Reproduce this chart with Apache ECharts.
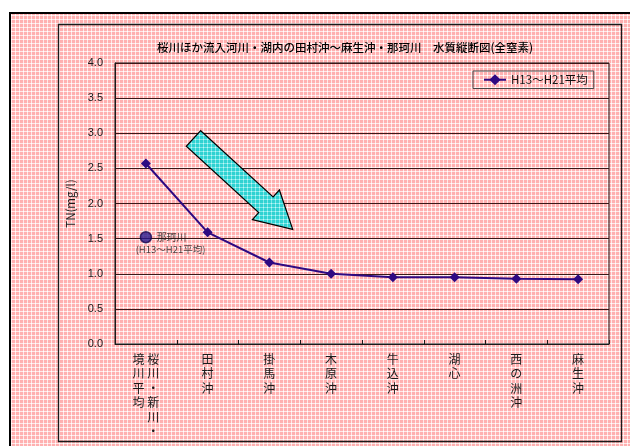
<!DOCTYPE html>
<html>
<head>
<meta charset="utf-8">
<script src="https://cdn.jsdelivr.net/npm/echarts@6/dist/echarts.min.js"></script>
<style>
  html, body { margin: 0; padding: 0; background: #ffffff; }
  #chart { width: 630px; height: 446px; }
</style>
</head>
<body>
<div id="chart"></div>
<script>
// Sampling stations along the flow, upstream to downstream
const categories = ['桜川・新川・境川平均', '田村沖', '掛馬沖', '木原沖', '牛込沖', '湖心', '西の洲沖', '麻生沖'];
// Total nitrogen, average of fiscal years H13–H21 (mg/l)
const tnAverage = [2.57, 1.59, 1.16, 1.00, 0.95, 0.95, 0.93, 0.92];
// Naka River reference point, plotted at the first station column
const nakaName = '那珂川';
const nakaCategory = categories[0];
const nakaValue = [1.52];
const seriesName = 'H13～H21平均';
const titleText = '桜川ほか流入河川・湖内の田村沖～麻生沖・那珂川　水質縦断図(全窒素)';
const yAxisName = 'TN(mg/l)';

const FONT = '"Noto Sans CJK JP", "Noto Sans", sans-serif';

// Small repeating tiles for the dotted fills
function makeTile(base, line, dot) {
  const c = document.createElement('canvas');
  c.width = 4; c.height = 4;
  const g = c.getContext('2d');
  g.fillStyle = base; g.fillRect(0, 0, 4, 4);
  g.fillStyle = line; g.fillRect(3, 0, 1, 4); g.fillRect(0, 3, 4, 1);
  g.fillStyle = dot; g.fillRect(3, 3, 1, 1);
  return c;
}
const pinkFill = { image: makeTile('#ffb0b0', '#ffe8e8', '#ffffff'), repeat: 'repeat' };
const cyanFill = { image: makeTile('#2fd2d2', '#7fe8e8', '#c8f6f6'), repeat: 'repeat' };

// Category names written top-to-bottom, wrapping into columns of 6 that run right-to-left
function verticalLabel(name) {
  const chars = Array.from(name);
  const rows = 6;
  const cols = [];
  for (let i = 0; i < chars.length; i += rows) cols.push(chars.slice(i, i + rows));
  if (cols.length === 1) return cols[0].join('\n');
  const lines = [];
  for (let r = 0; r < rows; r++) {
    const parts = [];
    for (let c = cols.length - 1; c >= 0; c--) parts.push(cols[c][r] || '\u3000');
    lines.push(parts.join(' '));
  }
  return lines.join('\n');
}

// Decorative block arrow pointing down the gradient
const arrowPoints = [
  [200.7, 130.7], [273.1, 197.0], [279.4, 190.0], [292.7, 229.3],
  [252.4, 219.6], [258.7, 212.6], [186.3, 146.3]
];

const chart = echarts.init(document.getElementById('chart'), null, { renderer: 'canvas' });
chart.setOption({
  animation: false,
  backgroundColor: '#ffffff',
  textStyle: { fontFamily: FONT },
  title: {
    text: titleText,
    left: 340,
    top: 37,
    textAlign: 'center',
    textStyle: { fontFamily: FONT, fontSize: 11.5, fontWeight: 500, color: '#000000' }
  },
  legend: {
    data: [seriesName],
    left: 473,
    top: 71,
    itemWidth: 22,
    itemHeight: 14,
    padding: [3, 6, 3, 10],
    borderColor: '#444444',
    borderWidth: 1,
    textStyle: { fontFamily: FONT, fontSize: 11.5, color: '#111111' }
  },
  graphic: [
    {
      type: 'rect', z: -10, silent: true,
      shape: { x: 10, y: 13, width: 700, height: 500 },
      style: { fill: pinkFill, stroke: '#000000', lineWidth: 2 }
    },
    {
      type: 'rect', z: -9, silent: true,
      shape: { x: 58.5, y: 24.5, width: 563, height: 417 },
      style: { fill: 'none', stroke: '#1a1a1a', lineWidth: 1.3 }
    },
    {
      type: 'polygon', z: 3, silent: true,
      shape: { points: arrowPoints },
      style: { fill: cyanFill, stroke: '#000000', lineWidth: 1.2 }
    }
  ],
  grid: {
    left: 115, top: 63, width: 494, height: 281,
    show: true, borderColor: '#1a1a1a', borderWidth: 1, backgroundColor: 'transparent'
  },
  xAxis: {
    type: 'category',
    data: categories,
    axisLine: { lineStyle: { color: '#1a1a1a', width: 1 } },
    axisTick: { show: true, inside: true, length: 4, lineStyle: { color: '#1a1a1a' } },
    axisLabel: {
      interval: 0,
      margin: 8,
      fontFamily: FONT,
      fontSize: 12,
      lineHeight: 14.5,
      color: '#1a1a1a',
      formatter: verticalLabel
    },
    splitLine: { show: false }
  },
  yAxis: {
    type: 'value',
    min: 0, max: 4, interval: 0.5,
    name: yAxisName,
    nameLocation: 'middle',
    nameGap: 33,
    nameRotate: 90,
    nameTextStyle: { fontFamily: FONT, fontSize: 11.5, color: '#1a1a1a' },
    axisLine: { show: true, lineStyle: { color: '#1a1a1a', width: 1 } },
    axisTick: { show: false },
    axisLabel: {
      margin: 12, fontSize: 11, color: '#1a1a1a',
      fontFamily: '"Liberation Sans", Arial, sans-serif',
      formatter: v => v.toFixed(1)
    },
    splitLine: { lineStyle: { color: '#3a1818', width: 1 } }
  },
  series: [
    {
      name: seriesName,
      type: 'line',
      data: tnAverage,
      symbol: 'diamond',
      symbolSize: 10,
      z: 4,
      lineStyle: { color: '#2e0a82', width: 2 },
      itemStyle: { color: '#2e0a82' },
      emphasis: { disabled: true }
    },
    {
      name: nakaName,
      type: 'scatter',
      data: nakaValue.map(v => [nakaCategory, v]),
      symbol: 'circle',
      symbolSize: 11,
      z: 4,
      itemStyle: { color: '#28188c', borderColor: '#14064e', borderWidth: 1.5 },
      emphasis: { disabled: true },
      label: {
        show: true,
        position: [-4, 0],
        align: 'left',
        verticalAlign: 'top',
        formatter: '{a|' + nakaName + '}\n{b|(' + seriesName + ')}',
        rich: {
          a: { fontFamily: FONT, fontSize: 10, lineHeight: 12, color: '#1a1a1a', padding: [0, 0, 0, 21] },
          b: { fontFamily: FONT, fontSize: 9.5, lineHeight: 12, color: '#1a1a1a' }
        }
      }
    }
  ]
});
</script>
</body>
</html>
